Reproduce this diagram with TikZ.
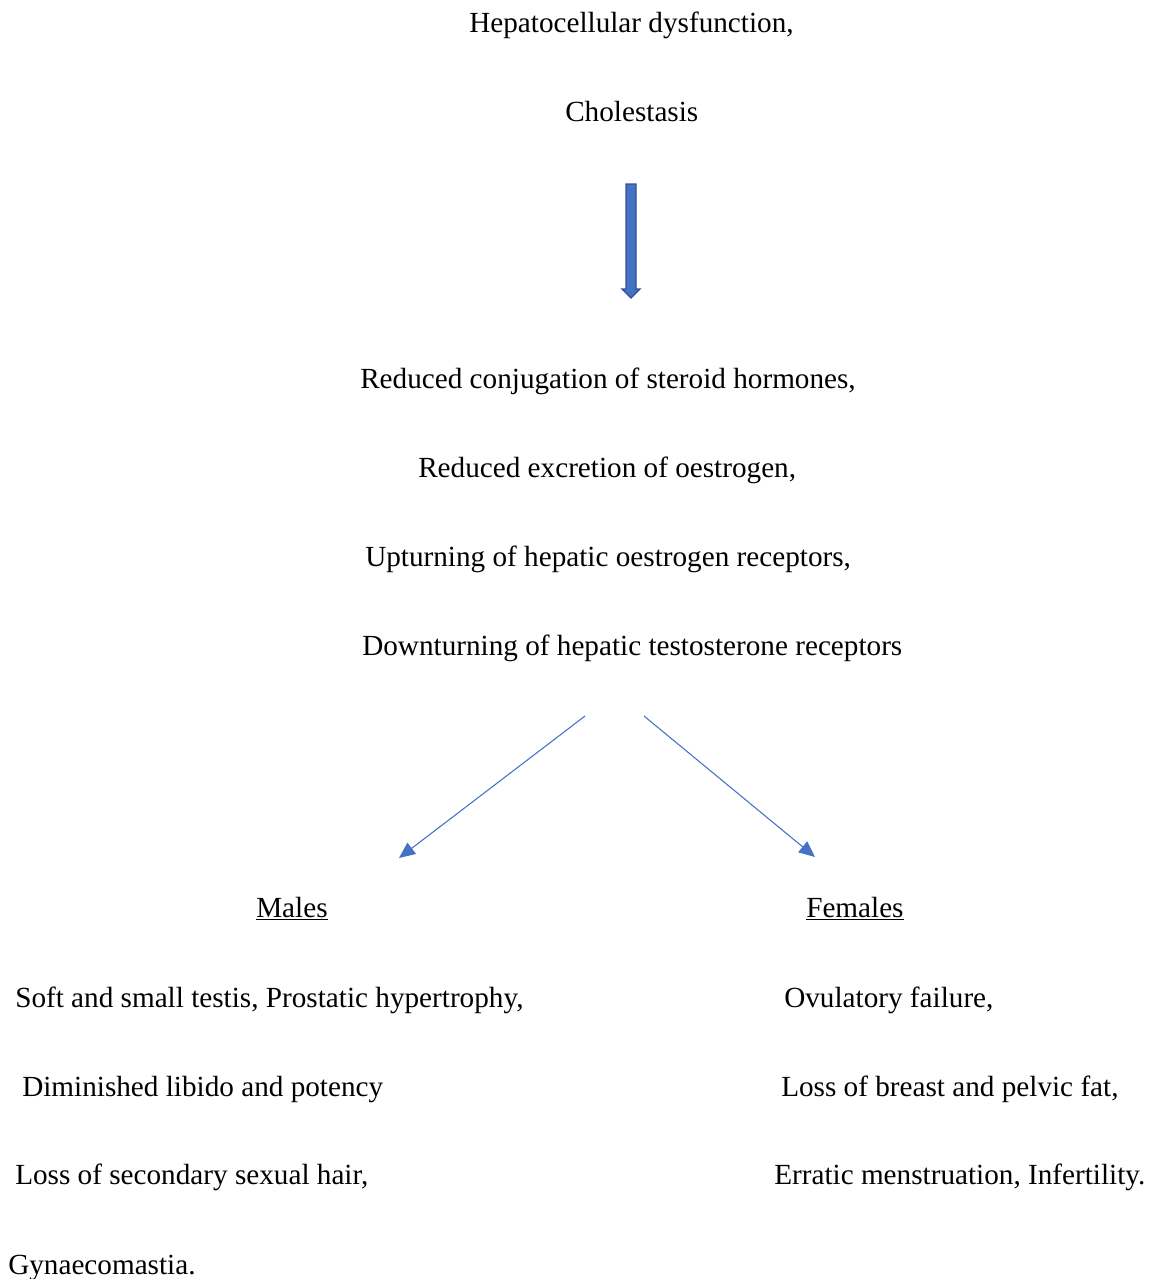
\documentclass[tikz,border=0pt]{standalone}
\usepackage{fontspec}
\setmainfont{Liberation Serif}
\usetikzlibrary{arrows.meta}
\definecolor{arrowblue}{HTML}{4472C4}
\definecolor{arrowedge}{HTML}{2F528F}
\begin{document}
\begin{tikzpicture}[x=0.75pt,y=-0.75pt,
  txt/.style={anchor=base west,inner sep=0pt,font=\fontsize{21.9}{26}\selectfont},
  thinarrow/.style={draw=arrowblue,line width=0.8pt,-{Triangle[length=12pt,width=10.5pt]}}]
\useasboundingbox (0,0) rectangle (1152,1279);
% top texts
\node[txt] (t1) at (469,32) {Hepatocellular dysfunction,};
\node[txt] (t2) at (565,121) {Cholestasis};
% block arrow
\filldraw[fill=arrowblue,draw=arrowedge,line width=1pt]
  (626,184) -- (636,184) -- (636,289) -- (640,289) -- (631,298) -- (622,289) -- (626,289) -- cycle;
% middle texts
\node[txt] (m1) at (360,388) {Reduced conjugation of steroid hormones,};
\node[txt] (m2) at (418,477) {Reduced excretion of oestrogen,};
\node[txt] (m3) at (365,566) {Upturning of hepatic oestrogen receptors,};
\node[txt] (m4) at (362,655) {Downturning of hepatic testosterone receptors};
% arrows
\coordinate (la) at (585,716);
\coordinate (lb) at (399,858);
\coordinate (ra) at (644,716);
\coordinate (rb) at (815,857);
\draw[thinarrow] (la) -- (lb);
\draw[thinarrow] (ra) -- (rb);
% headings
\node[txt] (males) at (256,917) {\underline{Males}};
\node[txt] (females) at (806,917) {\underline{Females}};
% males list
\node[txt] (ml1) at (15,1007) {Soft and small testis, Prostatic hypertrophy,};
\node[txt] (ml2) at (22,1096) {Diminished libido and potency};
\node[txt] (ml3) at (15,1184) {Loss of secondary sexual hair,};
\node[txt] (ml4) at (8,1274) {Gynaecomastia.};
% females list
\node[txt] (fl1) at (784,1007) {Ovulatory failure,};
\node[txt] (fl2) at (781,1096) {Loss of breast and pelvic fat,};
\node[txt] (fl3) at (774,1184) {Erratic menstruation, Infertility.};
\end{tikzpicture}
\end{document}
